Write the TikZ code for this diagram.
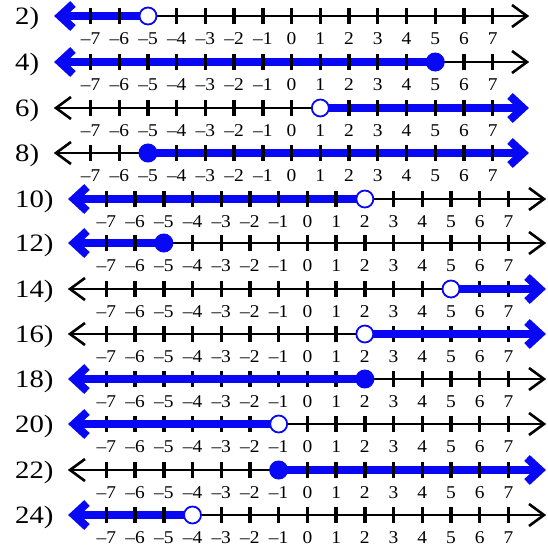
\documentclass[tikz,border=0pt]{standalone}
\usepackage{fontspec}
\setmainfont{Liberation Serif}
\newfontfamily\rowfont[FakeStretch=1.15]{Liberation Serif}
\newfontfamily\tickfont[FakeStretch=1.08]{Liberation Serif}
\definecolor{nlblue}{RGB}{8,8,245}
\tikzset{
  axisline/.style={line width=2.6pt,black},
  blackhead/.style={line width=2.6pt,black,line join=miter},
  tickmark/.style={line width=3.4pt,black},
  blueline/.style={line width=7.5pt,nlblue},
  bluehead/.style={line width=8pt,nlblue,line join=miter,miter limit=10},
  ticklab/.style={inner sep=0pt,font=\tickfont\fontsize{18}{18}\selectfont},
  rowlab/.style={inner sep=0pt,anchor=base west,font=\rowfont\fontsize{25}{25}\selectfont},
  opendot/.style={draw=nlblue,line width=1.8pt,fill=white},
  closeddot/.style={draw=nlblue,line width=1pt,fill=nlblue},
}
\newcommand\nlticks{%
  \foreach \k in {-7,...,7}{%
    \draw[tickmark] (\xo+28.72*\k,\yy-8) -- (\xo+28.72*\k,\yy+8);
  }}
\begin{document}
\begin{tikzpicture}[x=1pt,y=-1pt]
\useasboundingbox (0,0) rectangle (547,549);
\foreach \lab/\yy/\g/\p/\o/\d/\t in {
  2/16/0/-5/1/L/1, 4/62/0/5/0/L/1, 6/108/0/1/1/R/1, 8/153/0/-5/0/R/1,
  10/199/1/2/1/L/1, 12/243/1/-5/0/L/1, 14/289/1/5/1/R/0, 16/334/1/2/1/R/0,
  18/379/1/2/0/L/0, 20/424/1/-1/1/L/0, 22/470/1/-1/0/R/1, 24/515/1/-4/1/L/1}{
  \pgfmathsetmacro\xo{\g==0 ? 291.6 : 307.4}
  \pgfmathsetmacro\tl{\g==0 ? 54 : 68}
  \pgfmathsetmacro\tr{\g==0 ? 529 : 546}
  \pgfmathsetmacro\xp{\xo+28.72*\p}
  % row label
  \node[rowlab] (r\lab) at (15,\yy+8.5) {\lab)};
  % axis
  \coordinate (a\lab) at (\tl+2,\yy);
  \coordinate (b\lab) at (\tr-2,\yy);
  \coordinate (p\lab) at (\xp,\yy);
  \draw[axisline] (a\lab) -- (b\lab);
  \if L\d
    \draw[blackhead] ([shift={(-15,-11)}]b\lab) -- (b\lab) -- ([shift={(-15,11)}]b\lab);
  \else
    \draw[blackhead] ([shift={(15,-11)}]a\lab) -- (a\lab) -- ([shift={(15,11)}]a\lab);
  \fi
  \ifnum\t=0 \nlticks \fi
  % blue ray
  \if L\d
    \coordinate (v\lab) at (\tl+6,\yy);
    \draw[blueline] (v\lab) -- (p\lab);
    \draw[bluehead] ([shift={(13,-12)}]v\lab) -- (v\lab) -- ([shift={(13,12)}]v\lab);
  \else
    \coordinate (v\lab) at (\tr-6,\yy);
    \draw[blueline] (p\lab) -- (v\lab);
    \draw[bluehead] ([shift={(-13,-12)}]v\lab) -- (v\lab) -- ([shift={(-13,12)}]v\lab);
  \fi
  \ifnum\t=1 \nlticks \fi
  % tick labels
  \foreach \k in {-7,...,7}{%
    \node[ticklab] at (\xo+28.72*\k,\yy+22.5)
      {\ifnum\k<0 –\number\numexpr-\k\relax\else\k\fi};
  }
  % endpoint
  \ifnum\o=1
    \node[opendot,circle,minimum size=17pt,inner sep=0pt] (c\lab) at (p\lab) {};
  \else
    \node[closeddot,circle,minimum size=18pt,inner sep=0pt] (c\lab) at (p\lab) {};
  \fi
}
\end{tikzpicture}
\end{document}
